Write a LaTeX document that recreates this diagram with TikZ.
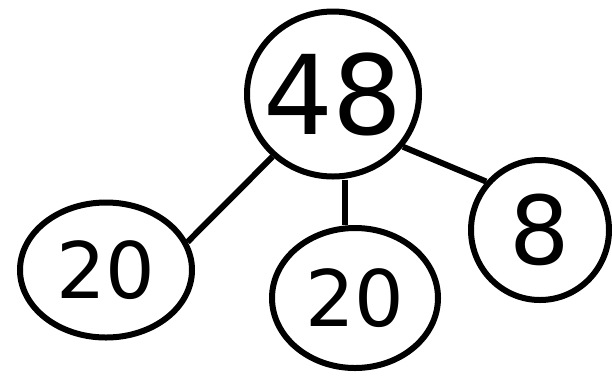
\documentclass[tikz,border=0pt]{standalone}
\usepackage{fontspec}
\setmainfont{DejaVu Sans}
\usetikzlibrary{shapes.geometric}
\begin{document}
\begin{tikzpicture}[x=1pt,y=-1pt,
  circ/.style={draw=black,line width=6pt,ellipse,inner sep=0pt},
  conn/.style={draw=black,line width=6pt}]
\useasboundingbox (0,0) rectangle (612,376);
\node[circ,minimum width=172pt,minimum height=165pt,label={[font=\fontsize{110}{110}\selectfont]center:48}] (top) at (333,94) {};
\node[circ,minimum width=172pt,minimum height=135pt,label={[font=\fontsize{78}{78}\selectfont]center:20}] (left) at (106,270) {};
\node[circ,minimum width=166pt,minimum height=140pt,label={[font=\fontsize{78}{78}\selectfont]center:20}] (mid) at (355,298) {};
\node[circ,minimum width=138pt,minimum height=140pt,label={[font=\fontsize{95}{95}\selectfont]center:8}] (right) at (540,230) {};
\draw[conn] (top.-134) -- (left.19);
\draw[conn] (top.south) ++(12,0) coordinate (ts) -- (ts |- mid.north);
\draw[conn] (top.-37) -- (right.138);
\end{tikzpicture}
\end{document}
